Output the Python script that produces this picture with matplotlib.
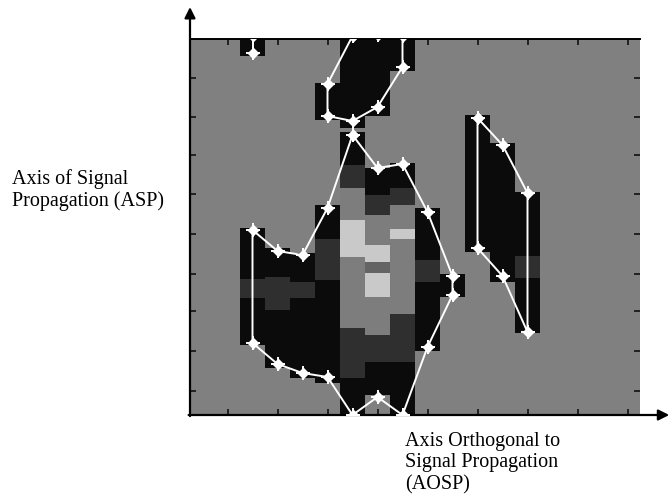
import matplotlib
matplotlib.use("Agg")
import matplotlib.pyplot as plt

# ---- grid cells: column index, bottom, top, shade ----
seg_col = [2, 2, 2, 2,
           3, 3, 3,
           4, 4, 4,
           5, 5, 5, 5,
           6, 6, 6, 6, 6, 6, 6, 6,
           7, 7, 7, 7, 7, 7, 7, 7, 7, 7,
           8, 8, 8, 8, 8, 8, 8, 8,
           9, 9, 9,
           10,
           11,
           12,
           13, 13, 13]
seg_y0 = [70, 117, 136, 359,
          47, 105, 138,
          37, 117, 133,
          32, 135, 176, 295,
          0, 37, 87, 158, 195, 227, 250, 287,
          20, 53, 80, 118, 142, 153, 170, 200, 220, 299,
          0, 53, 101, 176, 186, 210, 227, 344,
          64, 133, 155,
          118,
          163,
          133,
          82, 137, 159]
seg_y1 = [117, 136, 187, 376,
          105, 138, 167,
          117, 133, 162,
          135, 176, 210, 332,
          37, 87, 158, 195, 227, 250, 283, 376,
          53, 80, 118, 142, 153, 170, 200, 220, 247, 376,
          53, 101, 176, 186, 210, 227, 252, 376,
          133, 155, 207,
          141,
          300,
          272,
          137, 159, 223]
seg_shade = ["K", "D", "K", "K",
             "K", "D", "K",
             "K", "D", "K",
             "K", "D", "K", "K",
             "K", "D", "G", "L", "G", "D", "K", "K",
             "K", "D", "G", "L", "M", "L", "G", "D", "K", "K",
             "K", "D", "G", "L", "G", "D", "K", "K",
             "K", "D", "K",
             "K",
             "K",
             "K",
             "K", "D", "K"]

# ---- outline polygons (vertices at cell centres) ----
poly_a_x = [2.5, 2.5]
poly_a_y = [379, 362]
poly_b_x = [6.5, 5.5, 5.5, 6.5, 7.5, 8.5, 8.5, 7.5, 6.5]
poly_b_y = [379, 331, 299, 294, 308, 348, 379, 380, 379]
poly_c_x = [6.5, 7.5, 8.5, 9.5, 10.5, 10.5, 9.5, 8.5, 7.5, 6.5, 5.5, 4.5, 3.5, 2.5, 2.5, 3.5, 4.5, 5.5, 6.5]
poly_c_y = [280, 247, 251, 203, 139, 120, 68, 0, 18, 0, 38, 42, 51, 72, 185, 164, 160, 207, 280]
poly_d_x = [11.5, 12.5, 13.5, 13.5, 12.5, 11.5, 11.5]
poly_d_y = [297, 270, 222, 83, 139, 167, 297]

x_ticks = [1.5, 3.5, 5.5, 7.5, 9.5, 11.5, 13.5, 15.5, 17.5]
y_ticks = [24, 64, 104, 141, 181, 221, 260, 298, 337]

ylabel_text = "Axis of Signal\nPropagation (ASP)"
xlabel_text = "Axis Orthogonal to\nSignal Propagation\n(AOSP)"

shade_colors = {"K": "#0b0b0b", "D": "#2f2f2f", "G": "#7d7d7d",
                "L": "#c9c9c9", "M": "#646464"}

fig = plt.figure(figsize=(6.69, 5.0), dpi=100)
ax = fig.add_axes([190 / 669, 85 / 500, 450 / 669, 376 / 500])
ax.set_facecolor("#808080")
ax.set_xlim(0, 18)
ax.set_ylim(0, 376)

for c, y0, y1, s in zip(seg_col, seg_y0, seg_y1, seg_shade):
    ax.bar(c, y1 - y0, bottom=y0, width=1.0, align="edge",
           color=shade_colors[s], edgecolor="none", linewidth=0, zorder=1)

for px, py in [(poly_a_x, poly_a_y), (poly_b_x, poly_b_y),
               (poly_c_x, poly_c_y), (poly_d_x, poly_d_y)]:
    ax.plot(px, py, color="white", lw=1.4, zorder=3)
    ax.plot(px, py, linestyle="none", marker="D", ms=5, color="white",
            mec="white", zorder=4)
    ax.plot(px, py, linestyle="none", marker="+", ms=10, mew=1.4,
            color="white", zorder=4)

ax.set_xticks(x_ticks)
ax.set_yticks(y_ticks)
ax.tick_params(direction="in", length=4, width=1.2, color="#111111",
               top=True, right=True, labelbottom=False, labelleft=False)
for side in ["left", "bottom", "right"]:
    ax.spines[side].set_visible(False)
ax.spines["top"].set_color("black")
ax.spines["top"].set_linewidth(1.4)

ax.annotate("", xy=(0, 1.085), xytext=(0, -0.003), xycoords="axes fraction",
            arrowprops=dict(arrowstyle="-|>", color="black", lw=1.6,
                            mutation_scale=16, shrinkA=0, shrinkB=0))
ax.annotate("", xy=(1.065, 0), xytext=(-0.003, 0), xycoords="axes fraction",
            arrowprops=dict(arrowstyle="-|>", color="black", lw=1.6,
                            mutation_scale=16, shrinkA=0, shrinkB=0))

fig.text(12 / 669, 1 - 190 / 500, ylabel_text, family="Liberation Serif",
         fontsize=14.5, ha="left", va="center", linespacing=1.2)
fig.text(405 / 669, 1 - 463 / 500, xlabel_text, family="Liberation Serif",
         fontsize=14.5, ha="left", va="center", linespacing=1.2)

fig.savefig("out.png", dpi=100)
